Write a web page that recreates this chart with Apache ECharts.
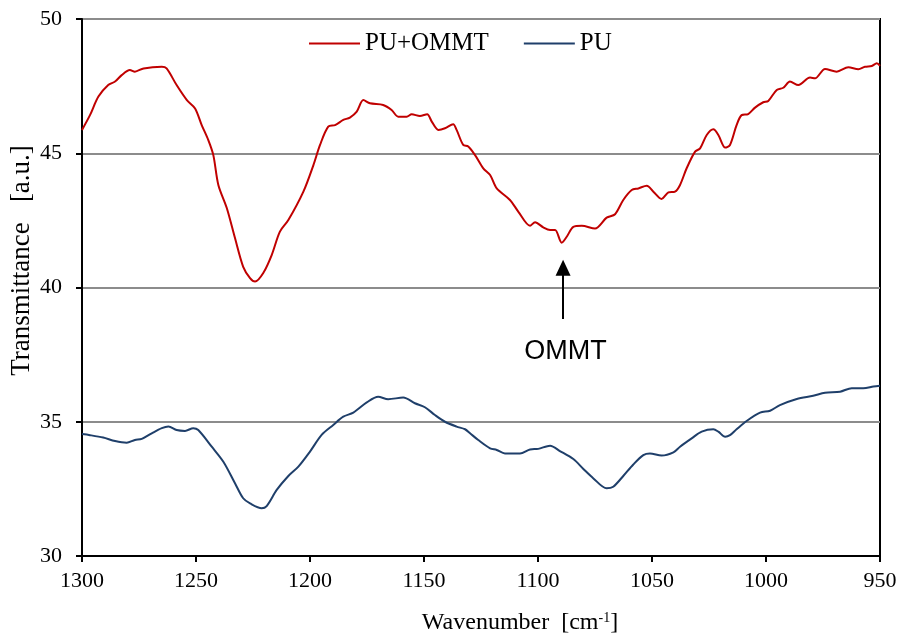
<!DOCTYPE html>
<html><head><meta charset="utf-8">
<script src="https://cdn.jsdelivr.net/npm/echarts@6/dist/echarts.min.js"></script>
<style>html,body{margin:0;padding:0;background:#fff}#c{width:901px;height:639px}</style>
</head><body><div id="c"></div>
<script>
const ommtWn = [1300,1296.5,1292.8,1288.5,1285.5,1282.6,1279,1276.8,1273,1265,1262.9,1258.5,1254,1250.4,1247.5,1244.6,1242.4,1240.2,1236.5,1232.9,1229.3,1226.3,1224.1,1220.5,1216.8,1213.2,1209.5,1202.9,1198.5,1195.6,1192,1189,1185.4,1182.5,1179.5,1176.6,1173.7,1167.9,1164.2,1161.3,1157.6,1155.4,1151.8,1148.6,1146.6,1143.7,1140.8,1137.2,1135.7,1132.8,1130.6,1127.6,1124,1121,1118.1,1112.3,1108.6,1103.5,1101.3,1097.7,1094.7,1092.5,1089.6,1087.4,1084.5,1080.8,1075,1069.9,1066.2,1062.6,1058.9,1056,1052.3,1049.4,1045.8,1042.8,1039.9,1037.7,1034.8,1031.1,1028.9,1026,1023.1,1020.9,1017.9,1015.8,1012.9,1010.7,1007.8,1004.8,1001.2,999,995.3,992.4,989.5,985.8,980.7,978.5,974.1,969,963.9,959.5,956.6,953.6,951.4,950];
const ommtT = [45.87,46.42,47.11,47.54,47.67,47.91,48.10,48.04,48.16,48.22,48.16,47.54,46.98,46.67,46.05,45.49,44.93,43.82,42.96,41.84,40.77,40.35,40.22,40.54,41.21,42.08,42.51,43.57,44.56,45.31,45.99,46.05,46.24,46.33,46.55,46.98,46.86,46.80,46.61,46.36,46.36,46.45,46.39,46.45,46.18,45.87,45.93,46.08,45.87,45.31,45.25,44.93,44.44,44.19,43.69,43.26,42.82,42.30,42.43,42.24,42.14,42.14,41.67,41.89,42.26,42.30,42.20,42.60,42.73,43.26,43.63,43.69,43.79,43.57,43.30,43.54,43.57,43.82,44.44,45.06,45.18,45.68,45.89,45.68,45.21,45.31,46.05,46.42,46.46,46.70,46.90,46.95,47.36,47.44,47.67,47.54,47.82,47.79,48.14,48.04,48.20,48.13,48.22,48.25,48.35,48.25];
const puWn = [1300,1296.5,1290.7,1285.5,1280.4,1276.8,1273.8,1269.4,1265,1262.1,1258.5,1254.8,1251.2,1249,1243.1,1238,1232.9,1229.3,1226.3,1221.2,1219,1214.6,1209.5,1205.1,1200,1194.9,1189.8,1185.4,1181,1175.1,1170.1,1165.7,1159.1,1154,1149.6,1145.2,1140.8,1135.7,1132,1129.8,1126.2,1121,1118.1,1114.5,1107.9,1103.5,1099.9,1094.7,1090.4,1084.5,1080.1,1075.7,1069.9,1067,1062.6,1058.2,1053.8,1050.9,1045.8,1040.6,1037.7,1032.6,1028.2,1023.1,1020.9,1017.9,1015.8,1012.9,1008.5,1002.6,998.2,993.9,986.5,979.3,974.1,967.5,962.4,957.3,952.9,950];
const puT = [34.54,34.50,34.41,34.28,34.22,34.32,34.36,34.57,34.76,34.82,34.69,34.66,34.76,34.69,34.07,33.51,32.71,32.15,31.96,31.78,31.86,32.46,32.98,33.33,33.89,34.51,34.88,35.19,35.34,35.72,35.93,35.84,35.90,35.69,35.54,35.25,35.00,34.82,34.72,34.57,34.32,34.01,33.95,33.82,33.82,33.97,33.99,34.11,33.91,33.61,33.24,32.89,32.52,32.58,32.98,33.41,33.76,33.82,33.74,33.86,34.07,34.38,34.63,34.72,34.63,34.44,34.50,34.72,35.03,35.34,35.41,35.62,35.85,35.97,36.08,36.12,36.25,36.25,36.31,36.34];
const seriesNames = ['PU+OMMT','PU'];
const annotationText = 'OMMT';
const arrowWn = 1089;
const arrowFrom = 38.83;
const arrowTo = 40.74;
const annotationPos = [1087.9, 37.6];

const serif = '"Liberation Serif","Times New Roman",serif';
const chart = echarts.init(document.getElementById('c'), null, {renderer:'canvas'});
chart.setOption({
  animation:false,
  backgroundColor:'#fff',
  grid:{left:82,right:21,top:19,bottom:83,containLabel:false,outerBoundsMode:'none',show:true,borderColor:'#000',borderWidth:2,backgroundColor:'transparent'},
  legend:{
    data:seriesNames, left:309, top:31, padding:0, icon:'rect', itemWidth:51, itemHeight:2, itemGap:35,
    textStyle:{fontFamily:serif,fontSize:25,color:'#000'}
  },
  xAxis:{
    type:'value', min:950, max:1300, interval:50, inverse:true,
    name:'Wavenumber  [cm{sup|-1}]', nameLocation:'middle', nameGap:55, nameMoveOverlap:false,
    nameTextStyle:{fontFamily:serif,fontSize:24,color:'#000',padding:[0,0,0,78],
      rich:{sup:{fontFamily:serif,fontSize:14,verticalAlign:'top',padding:[0,0,10,0],color:'#000'}}},
    axisLine:{show:true,lineStyle:{color:'#000',width:2}},
    axisTick:{show:true,length:6,lineStyle:{color:'#000',width:2}},
    axisLabel:{fontFamily:serif,fontSize:22,color:'#000',margin:14,formatter:v=>String(v)},
    splitLine:{show:false}
  },
  yAxis:{
    type:'value', min:30, max:50, interval:5,
    name:'Transmittance   [a.u.]', nameLocation:'middle', nameGap:47, nameMoveOverlap:false,
    nameTextStyle:{fontFamily:serif,fontSize:27,color:'#000',padding:[0,0,0,54]},
    axisLine:{show:true,lineStyle:{color:'#000',width:2}},
    axisTick:{show:true,length:6,lineStyle:{color:'#000',width:2}},
    axisLabel:{fontFamily:serif,fontSize:22,color:'#000',margin:20},
    splitLine:{show:true,lineStyle:{color:'#8c8c8c',width:2}}
  },
  series:[
    {name:seriesNames[0], type:'line', data:ommtWn.map((w,i)=>[w,ommtT[i]]), smooth:0.3, symbol:'none',
     lineStyle:{color:'#C00000',width:2}, itemStyle:{color:'#C00000'}, z:3,
     markLine:{silent:true, symbol:['none','triangle'], symbolSize:[15,16], label:{show:false},
       lineStyle:{color:'#000',width:2,type:'solid'},
       data:[[{coord:[arrowWn,arrowFrom]},{coord:[arrowWn,arrowTo]}]]},
     markPoint:{silent:true, symbol:'circle', symbolSize:0,
       label:{show:true, formatter:annotationText, fontFamily:'"Liberation Sans",Arial,sans-serif', fontSize:27, color:'#000', position:'inside'},
       data:[{coord:annotationPos}]}
    },
    {name:seriesNames[1], type:'line', data:puWn.map((w,i)=>[w,puT[i]]), smooth:0.3, symbol:'none',
     lineStyle:{color:'#1F3F6A',width:2}, itemStyle:{color:'#1F3F6A'}, z:3}
  ]
});
</script></body></html>
